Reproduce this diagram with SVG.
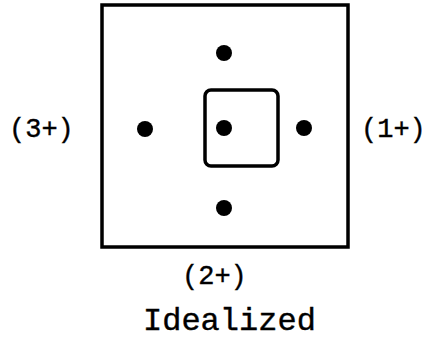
<svg xmlns="http://www.w3.org/2000/svg" width="426" height="340" viewBox="0 0 426 340">
<style>
.box{fill:none;stroke:#000;stroke-width:3.5}
.dot{fill:#000}
.t{font-family:"Liberation Mono","DejaVu Sans Mono",monospace;fill:#000;stroke:#000;stroke-width:0.4}
</style>
<rect width="426" height="340" fill="#fff"/>
<g id="outer"><rect class="box" x="102" y="5" width="246" height="242"/></g>
<g id="inner"><rect class="box" x="205" y="90" width="73" height="76" rx="6"/></g>
<g id="dot-top"><circle class="dot" cx="224" cy="53" r="8"/></g>
<g id="dot-center"><circle class="dot" cx="224" cy="128" r="8"/></g>
<g id="dot-bottom"><circle class="dot" cx="224" cy="208" r="8"/></g>
<g id="dot-left"><circle class="dot" cx="145" cy="129" r="8"/></g>
<g id="dot-right"><circle class="dot" cx="304" cy="128" r="8"/></g>
<g id="connectors"></g>
<g id="labels">
<text class="t" x="9" y="137" font-size="27">(3+)</text>
<text class="t" x="361" y="137" font-size="27">(1+)</text>
<text class="t" x="182" y="284" font-size="27">(2+)</text>
<text class="t" x="143" y="330" font-size="32">Idealized</text>
</g>
</svg>
